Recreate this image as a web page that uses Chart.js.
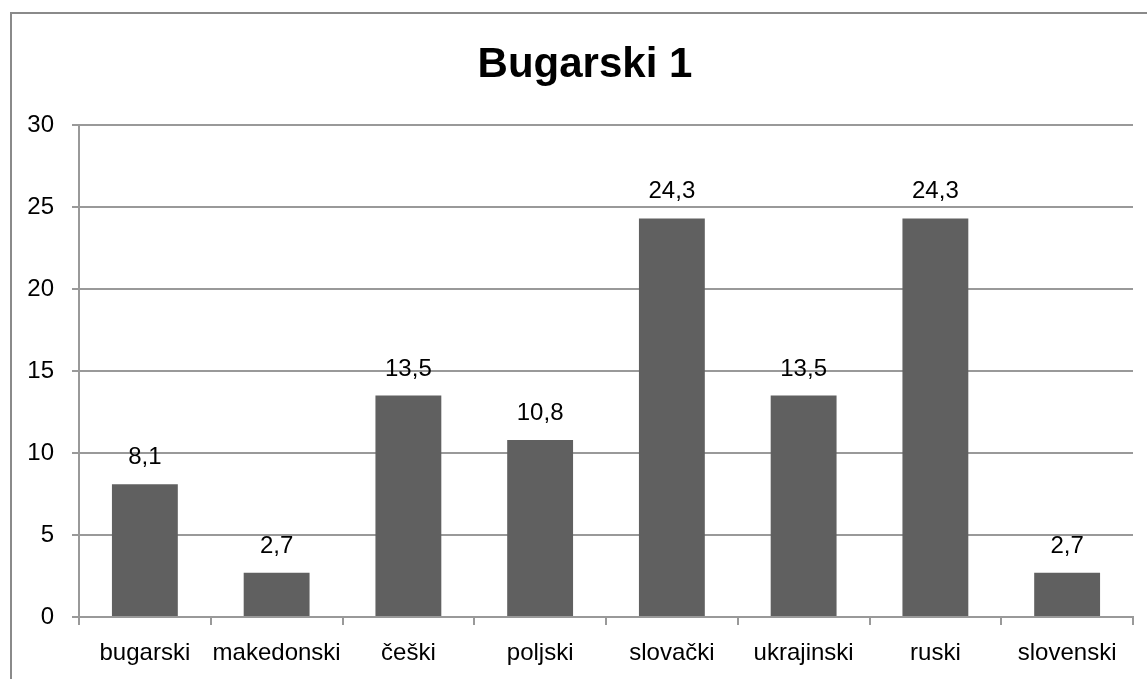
<!DOCTYPE html>
<html>
<head>
<meta charset="utf-8">
<script src="https://cdn.jsdelivr.net/npm/chart.js@4.4.0/dist/chart.umd.min.js"></script>
<style>
  html, body { margin: 0; padding: 0; background: #fff; overflow: hidden; }
  #wrap { position: relative; width: 1147px; height: 679px; overflow: hidden; }
  #frame { position: absolute; left: 10px; top: 12px; width: 1200px; height: 720px; border: 2px solid #8a8a8a; box-sizing: border-box; }
  canvas { position: absolute; left: 0; top: 0; }
</style>
</head>
<body>
<div id="wrap">
  <div id="frame"></div>
  <canvas id="chart" width="1170" height="679"></canvas>
</div>
<script>
var categories = ['bugarski', 'makedonski', 'češki', 'poljski', 'slovački', 'ukrajinski', 'ruski', 'slovenski']
var values = [8.1, 2.7, 13.5, 10.8, 24.3, 13.5, 24.3, 2.7]
var yTicks = [0, 5, 10, 15, 20, 25, 30]
var title = 'Bugarski 1'

var fontFamily = '"Liberation Sans", Arial, sans-serif'

// labels above each bar, decimal comma as in the original
const barLabels = {
    id: 'barLabels',
    afterDatasetsDraw(chart) {
        var ctx = chart.ctx
        var meta = chart.getDatasetMeta(0)
        ctx.save()
        ctx.font = '24px ' + fontFamily
        ctx.fillStyle = '#000'
        ctx.textAlign = 'center'
        ctx.textBaseline = 'alphabetic'
        meta.data.forEach(function(bar, i){
            var txt = String(values[i]).replace('.', ',')
            ctx.fillText(txt, bar.x, bar.y - 20)
        })
        ctx.restore()
    }
}

// title centred on the whole chart object (wider than the plot)
const chartTitle = {
    id: 'chartTitle',
    afterDraw(chart) {
        var ctx = chart.ctx
        ctx.save()
        ctx.font = 'bold 42px ' + fontFamily
        ctx.fillStyle = '#000'
        ctx.textAlign = 'center'
        ctx.textBaseline = 'alphabetic'
        ctx.fillText(title, chart.width / 2, 77)
        ctx.restore()
    }
}

var ctx = document.getElementById('chart').getContext('2d')

new Chart(ctx, {
    type: 'bar',
    data: {
        labels: categories,
        datasets: [{
            data: values,
            backgroundColor: '#606060',
            borderWidth: 0,
            barPercentage: 0.5,
            categoryPercentage: 1.0
        }]
    },
    options: {
        responsive: false,
        animation: false,
        layout: { padding: { left: 0, right: 37, top: 125, bottom: 0 } },
        plugins: {
            legend: { display: false },
            tooltip: { enabled: false },
            title: { display: false }
        },
        scales: {
            x: {
                grid: {
                    offset: true,
                    drawOnChartArea: false,
                    drawTicks: true,
                    tickLength: 8,
                    color: '#999',
                    lineWidth: 2
                },
                border: { display: true, color: '#999', width: 2 },
                ticks: {
                    color: '#000',
                    padding: 14,
                    maxRotation: 0,
                    autoSkip: false,
                    font: { family: fontFamily, size: 24 }
                },
                afterFit: function(scale){ scale.height = 62 }
            },
            y: {
                min: 0,
                max: 30,
                afterBuildTicks: function(scale){
                    scale.ticks = yTicks.map(function(v){ return { value: v } })
                },
                grid: {
                    color: '#999',
                    lineWidth: 2,
                    tickLength: 7
                },
                border: { display: true, color: '#999', width: 2 },
                ticks: {
                    color: '#000',
                    padding: 18,
                    font: { family: fontFamily, size: 24 }
                },
                afterFit: function(scale){ scale.width = 79 }
            }
        }
    },
    plugins: [barLabels, chartTitle]
})
</script>
</body>
</html>
